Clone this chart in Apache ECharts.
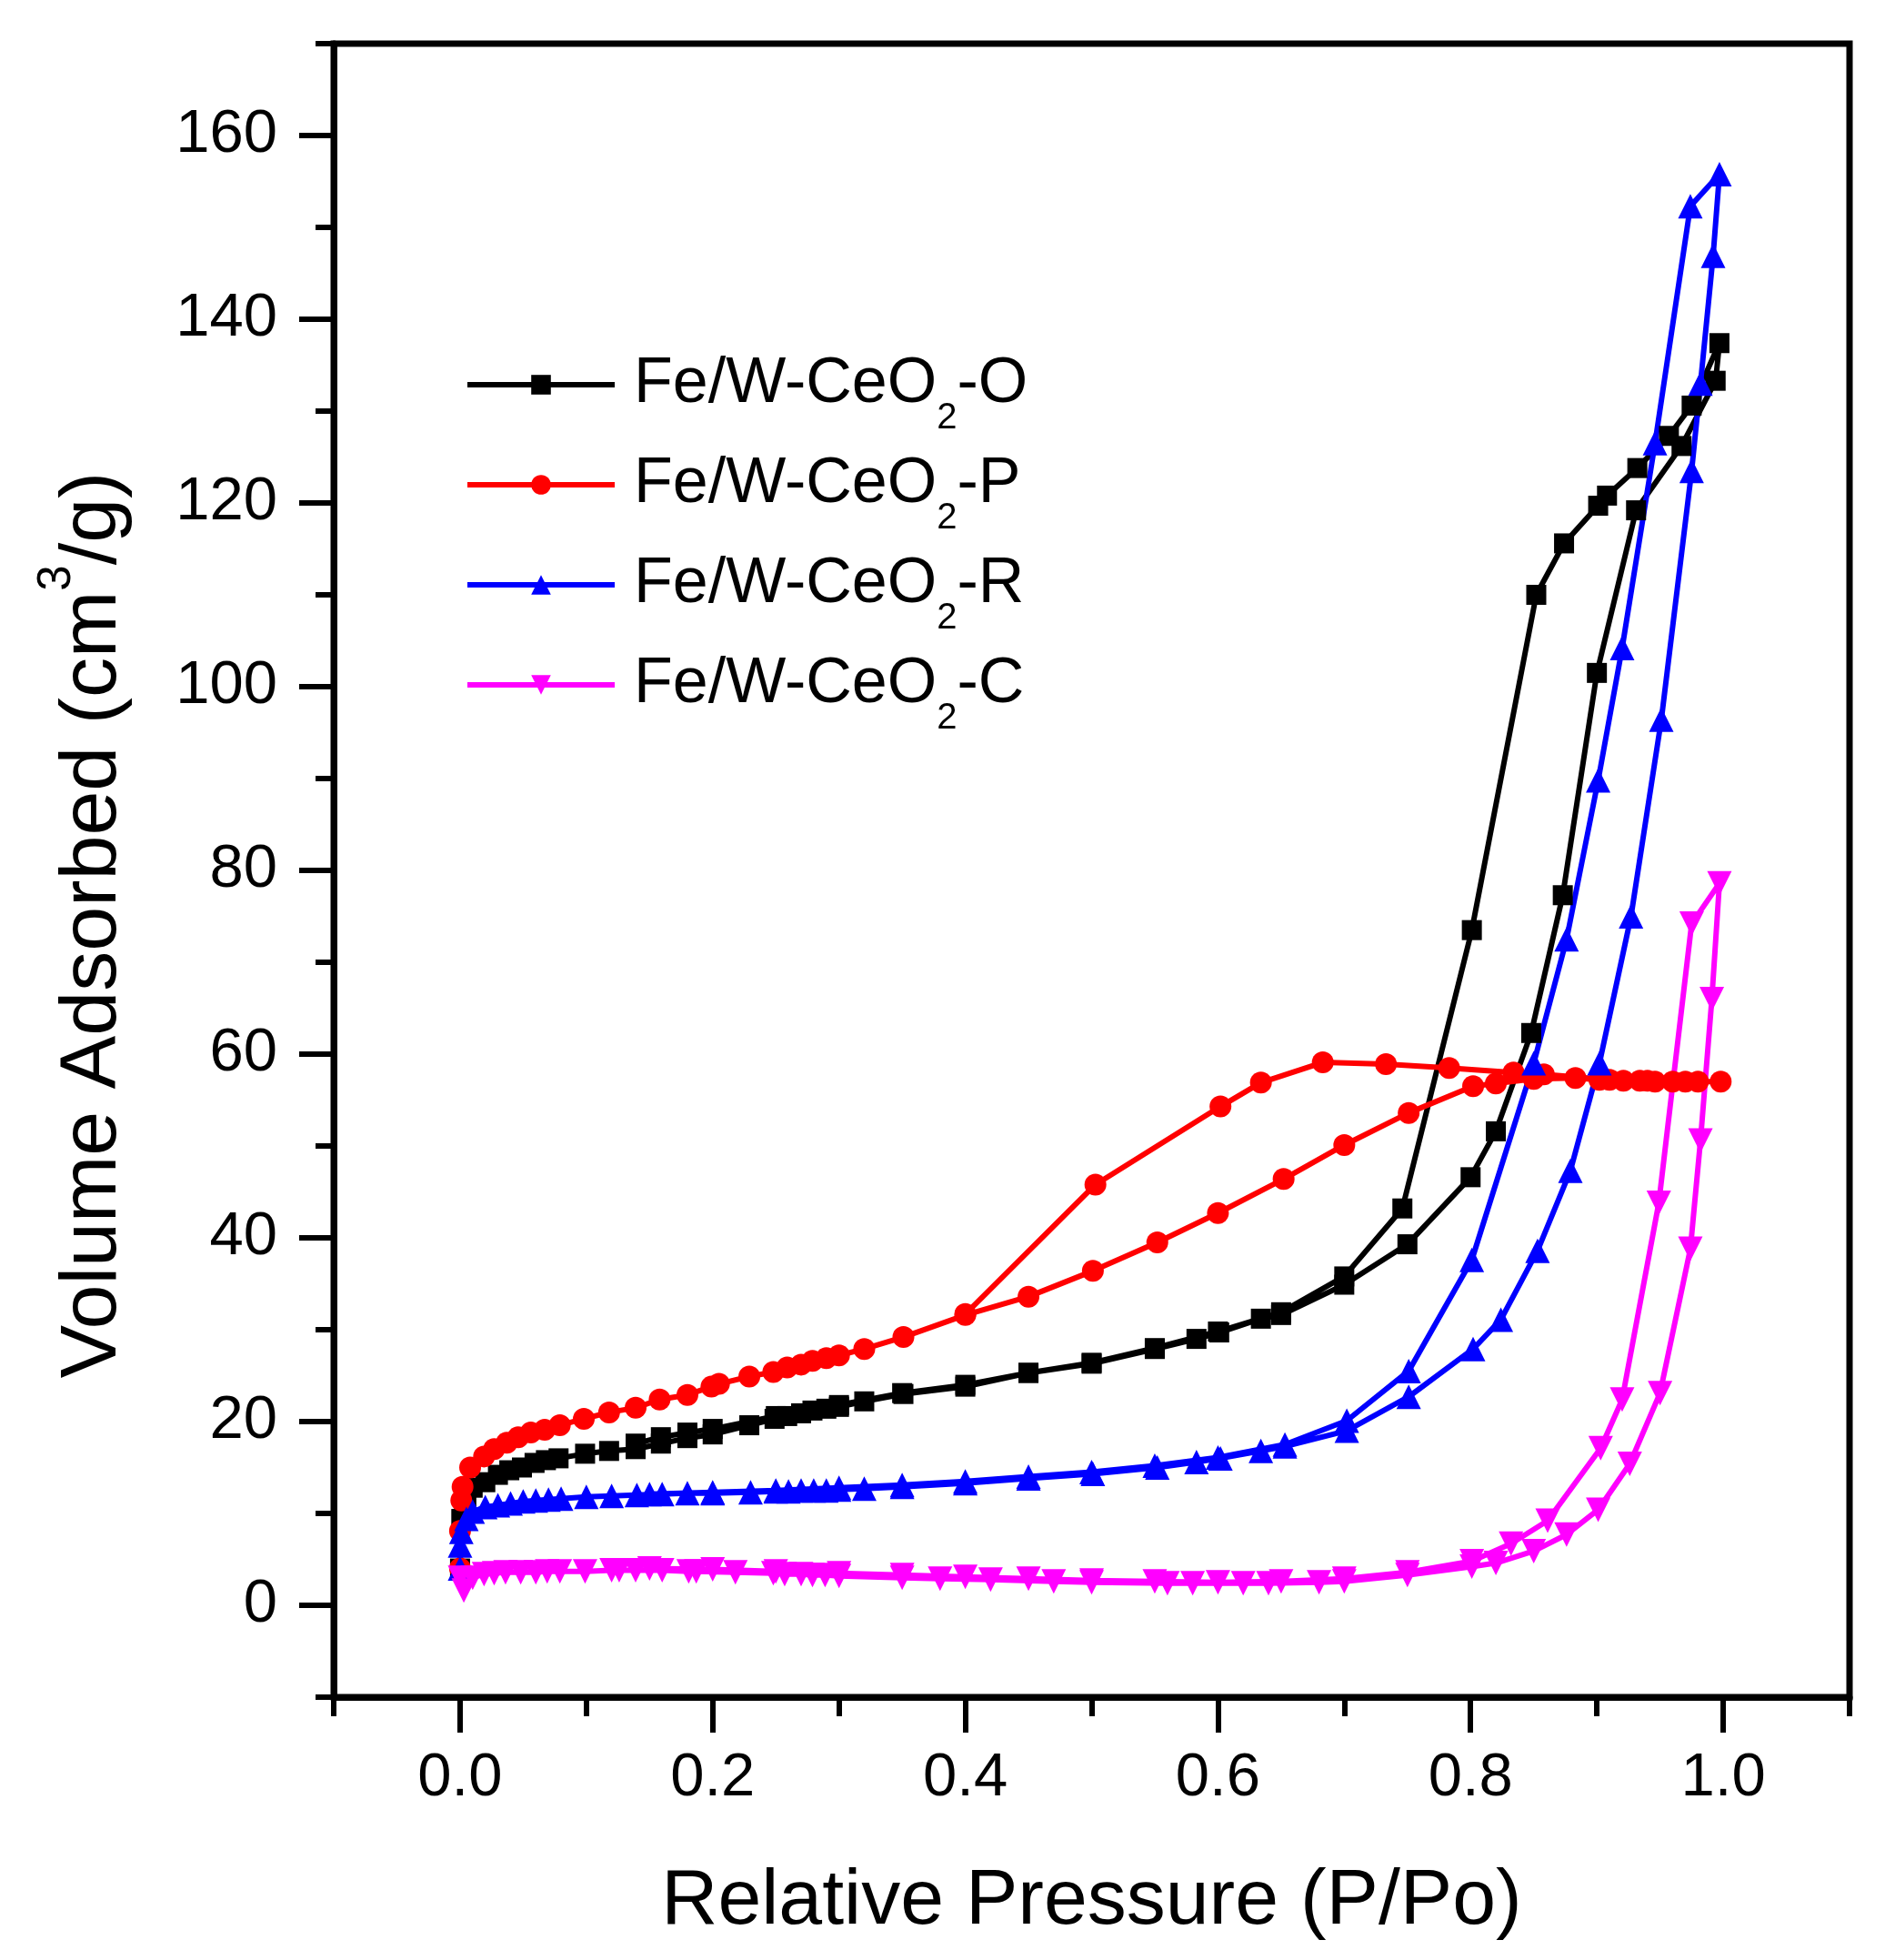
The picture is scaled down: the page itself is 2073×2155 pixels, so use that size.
<!DOCTYPE html>
<html>
<head>
<meta charset="utf-8">
<script src="https://cdn.jsdelivr.net/npm/echarts@6/dist/echarts.min.js"></script>
<style>
html,body{margin:0;padding:0;background:#fff;}
#chart{width:2073px;height:2155px;}
</style>
</head>
<body>
<div id="chart"></div>
<script>
// ---------- DATA ----------
const seriesNames = ['Fe/W-CeO2-O', 'Fe/W-CeO2-P', 'Fe/W-CeO2-R', 'Fe/W-CeO2-C'];
const seriesSuffix = ['O', 'P', 'R', 'C'];

// Fe/W-CeO2-O (black, squares)
const oAdsP = [0.000, 0.001, 0.005, 0.010, 0.020, 0.030, 0.039, 0.049, 0.059, 0.068, 0.078, 0.099, 0.118, 0.139, 0.159, 0.180, 0.200, 0.229, 0.249, 0.259, 0.270, 0.279, 0.290, 0.300, 0.320, 0.351, 0.400, 0.450, 0.500, 0.550, 0.583, 0.601, 0.634, 0.650, 0.700, 0.750, 0.800, 0.820, 0.848, 0.873, 0.900, 0.931, 0.967, 0.994, 0.997];
const oAdsV = [4.0, 9.4, 11.5, 12.8, 13.4, 14.2, 14.7, 15.0, 15.5, 15.8, 16.0, 16.5, 16.8, 17.0, 17.6, 18.2, 18.6, 19.6, 20.3, 20.6, 20.9, 21.2, 21.4, 21.6, 22.2, 23.0, 23.8, 25.3, 26.3, 27.9, 29.0, 29.7, 31.2, 31.6, 34.9, 39.3, 46.6, 51.6, 62.3, 77.3, 101.5, 119.2, 126.2, 133.3, 137.4];
const oDesP = [0.975, 0.957, 0.932, 0.908, 0.901, 0.874, 0.852, 0.801, 0.746, 0.700, 0.650, 0.600, 0.550, 0.500, 0.450, 0.400, 0.350, 0.300, 0.250, 0.200, 0.180, 0.159, 0.139];
const oDesV = [130.6, 127.3, 123.8, 120.8, 119.7, 115.6, 110.0, 73.5, 43.2, 35.8, 31.9, 29.8, 28.0, 26.4, 25.3, 24.0, 23.1, 21.8, 20.6, 19.2, 18.8, 18.3, 17.6];

// Fe/W-CeO2-P (red, circles)
const pAdsP = [0.000, 0.000, 0.001, 0.002, 0.008, 0.019, 0.027, 0.037, 0.046, 0.056, 0.067, 0.079, 0.098, 0.118, 0.139, 0.158, 0.180, 0.199, 0.205, 0.229, 0.248, 0.259, 0.270, 0.279, 0.290, 0.300, 0.320, 0.351, 0.400, 0.450, 0.501, 0.552, 0.600, 0.652, 0.700, 0.751, 0.802, 0.820, 0.850, 0.883, 0.902, 0.921, 0.934, 0.946, 0.970, 0.998];
const pAdsV = [4.0, 8.1, 11.4, 12.9, 15.0, 16.2, 17.0, 17.7, 18.3, 18.8, 19.1, 19.6, 20.3, 21.0, 21.5, 22.4, 22.9, 23.8, 24.1, 24.9, 25.4, 25.9, 26.2, 26.6, 26.9, 27.2, 27.9, 29.2, 31.6, 33.6, 36.4, 39.5, 42.7, 46.4, 50.1, 53.6, 56.5, 56.8, 57.3, 57.4, 57.2, 57.1, 57.1, 57.0, 57.0, 57.0];
const pDesP = [0.980, 0.960, 0.940, 0.910, 0.858, 0.834, 0.783, 0.733, 0.683, 0.634, 0.602, 0.503, 0.400];
const pDesV = [57.0, 57.0, 57.1, 57.2, 57.8, 58.0, 58.5, 58.9, 59.1, 56.9, 54.3, 45.8, 31.7];

// Fe/W-CeO2-R (blue, up triangles)
const rAdsP = [0.000, 0.000, 0.001, 0.005, 0.010, 0.020, 0.030, 0.040, 0.050, 0.060, 0.070, 0.080, 0.100, 0.120, 0.140, 0.160, 0.180, 0.200, 0.230, 0.250, 0.260, 0.270, 0.280, 0.290, 0.300, 0.320, 0.350, 0.400, 0.450, 0.501, 0.552, 0.583, 0.602, 0.634, 0.653, 0.702, 0.751, 0.802, 0.824, 0.853, 0.879, 0.902, 0.927, 0.951, 0.975, 0.982, 0.992, 0.997];
const rAdsV = [4.0, 6.5, 8.0, 9.4, 10.2, 10.7, 10.9, 11.1, 11.3, 11.4, 11.5, 11.6, 11.8, 11.9, 12.0, 12.1, 12.2, 12.2, 12.3, 12.4, 12.4, 12.5, 12.5, 12.5, 12.6, 12.7, 12.9, 13.3, 13.8, 14.3, 15.0, 15.6, 16.0, 16.8, 17.3, 19.0, 22.7, 27.9, 31.1, 38.6, 47.3, 59.0, 75.0, 96.4, 123.5, 133.0, 146.9, 155.8];
const rDesP = [0.974, 0.946, 0.920, 0.901, 0.876, 0.850, 0.801, 0.751, 0.702, 0.653, 0.600, 0.550, 0.500, 0.450, 0.400, 0.350, 0.300, 0.250, 0.200, 0.150];
const rDesV = [152.3, 126.5, 104.2, 89.8, 72.5, 59.0, 37.6, 25.5, 20.1, 17.5, 16.1, 15.2, 14.5, 14.0, 13.5, 13.1, 12.8, 12.5, 12.3, 12.1];

// Fe/W-CeO2-C (magenta, down triangles)
const cAdsP = [0.000, 0.003, 0.010, 0.019, 0.027, 0.036, 0.048, 0.060, 0.069, 0.079, 0.099, 0.120, 0.126, 0.139, 0.160, 0.181, 0.187, 0.218, 0.248, 0.257, 0.270, 0.279, 0.289, 0.300, 0.350, 0.380, 0.420, 0.470, 0.500, 0.560, 0.580, 0.620, 0.640, 0.680, 0.700, 0.750, 0.801, 0.820, 0.850, 0.876, 0.901, 0.926, 0.950, 0.974, 0.982, 0.991, 0.997];
const cAdsV = [3.0, 1.6, 3.0, 3.4, 3.5, 3.6, 3.6, 3.6, 3.7, 3.7, 3.7, 3.8, 3.8, 3.8, 3.8, 3.7, 3.7, 3.6, 3.5, 3.4, 3.4, 3.3, 3.3, 3.2, 3.0, 2.9, 2.8, 2.6, 2.5, 2.4, 2.4, 2.4, 2.4, 2.5, 2.6, 3.3, 4.2, 4.6, 5.9, 7.7, 10.4, 15.4, 23.1, 38.8, 50.6, 66.0, 78.6];
const cDesP = [0.975, 0.949, 0.920, 0.903, 0.861, 0.832, 0.801, 0.750, 0.700, 0.650, 0.600, 0.550, 0.500, 0.450, 0.400, 0.350, 0.300, 0.250, 0.200, 0.150];
const cDesV = [74.2, 43.8, 22.4, 17.1, 9.2, 6.7, 4.8, 3.6, 2.9, 2.6, 2.5, 2.6, 2.7, 2.9, 3.1, 3.3, 3.5, 3.7, 3.9, 4.0];

// Ticks
const xMajorTicks = [0.0, 0.2, 0.4, 0.6, 0.8, 1.0];
const xMinorTicks = [-0.1, 0.1, 0.3, 0.5, 0.7, 0.9, 1.1];
const yMajorTicks = [0, 20, 40, 60, 80, 100, 120, 140, 160];
const yMinorTicks = [-10, 10, 30, 50, 70, 90, 110, 130, 150, 170];

// ---------- BUILD ----------
function zip(ps, vs) { return ps.map((p, i) => [p, vs[i]]); }
const FONT = 'Arial, "Liberation Sans", Helvetica, sans-serif';

const seriesData = [
  zip(oAdsP, oAdsV).concat(zip(oDesP, oDesV)),
  zip(pAdsP, pAdsV).concat(zip(pDesP, pDesV)),
  zip(rAdsP, rAdsV).concat(zip(rDesP, rDesV)),
  zip(cAdsP, cAdsV).concat(zip(cDesP, cDesV))
];
const colors = ['#000000', '#FF0000', '#0000FF', '#FF00FF'];
const symbols = ['rect', 'circle', 'triangle', 'triangle'];
const symbolSizes = [22, 24, 27, 27];
const rotates = [0, 0, 0, 180];

const chart = echarts.init(document.getElementById('chart'), null, {renderer: 'canvas'});

const series = seriesNames.map((name, i) => ({
  name: name,
  type: 'line',
  xAxisIndex: 0,
  yAxisIndex: 0,
  data: seriesData[i],
  symbol: symbols[i],
  symbolSize: symbolSizes[i],
  symbolRotate: rotates[i],
  showAllSymbol: true,
  color: colors[i],
  lineStyle: {color: colors[i], width: 6},
  itemStyle: {color: colors[i]},
  animation: false
}));

const option = {
  backgroundColor: '#ffffff',
  animation: false,
  grid: {
    left: 367, right: 39, top: 48, bottom: 289,
    show: true, borderColor: '#000', borderWidth: 7, backgroundColor: 'transparent'
  },
  legend: {
    orient: 'vertical',
    left: 506,
    top: 361,
    itemWidth: 162,
    itemHeight: 27,
    itemGap: -4,
    data: seriesNames,
    lineStyle: {width: 6},
    formatter: function (name) {
      const i = seriesNames.indexOf(name);
      return '{f|Fe/W-CeO}{s|2}{a|-' + seriesSuffix[i] + '}';
    },
    textStyle: {
      color: '#000',
      rich: {
        f: {fontSize: 70, lineHeight: 80, fontFamily: FONT, color: '#000', padding: [0, 0, 0, 16]},
        a: {fontSize: 70, lineHeight: 80, fontFamily: FONT, color: '#000'},
        s: {fontSize: 40, lineHeight: 40, fontFamily: FONT, color: '#000', padding: [74, 0, 0, 0]}
      }
    }
  },
  xAxis: [
    {
      type: 'value', min: -0.1, max: 1.1, position: 'bottom',
      name: 'Relative Pressure (P/Po)',
      nameLocation: 'middle', nameGap: 182,
      nameTextStyle: {fontSize: 86, fontFamily: FONT, color: '#000'},
      axisLine: {show: true, onZero: false, lineStyle: {color: '#000', width: 7}},
      axisTick: {show: true, inside: false, length: 39, customValues: xMajorTicks, lineStyle: {color: '#000', width: 6}},
      axisLabel: {show: true, customValues: xMajorTicks, margin: 56, fontSize: 67, fontFamily: FONT, color: '#000',
        formatter: v => Number(v).toFixed(1)},
      splitLine: {show: false}
    },
    {
      type: 'value', min: -0.1, max: 1.1, position: 'bottom', gridIndex: 0,
      axisLine: {show: false, onZero: false},
      axisTick: {show: true, inside: false, length: 21, customValues: xMinorTicks, lineStyle: {color: '#000', width: 6}},
      axisLabel: {show: false},
      splitLine: {show: false}
    }
  ],
  yAxis: [
    {
      type: 'value', min: -10, max: 170, position: 'left',
      name: '{a|Volume Adsorbed (cm}{b|3}{a|/g)}',
      nameLocation: 'middle', nameGap: 214, nameRotate: 90,
      nameTextStyle: {
        color: '#000', fontFamily: FONT, fontSize: 88,
        padding: [0, 120, 0, 0],
        rich: {
          a: {fontSize: 88, lineHeight: 100, fontFamily: FONT, color: '#000'},
          b: {fontSize: 51, lineHeight: 50, fontFamily: FONT, color: '#000', padding: [0, 0, 80, 0]}
        }
      },
      axisLine: {show: true, onZero: false, lineStyle: {color: '#000', width: 7}},
      axisTick: {show: true, inside: false, length: 38, customValues: yMajorTicks, lineStyle: {color: '#000', width: 6}},
      axisLabel: {show: true, customValues: yMajorTicks, margin: 62, fontSize: 67, fontFamily: FONT, color: '#000'},
      splitLine: {show: false}
    },
    {
      type: 'value', min: -10, max: 170, position: 'left', gridIndex: 0,
      axisLine: {show: false, onZero: false},
      axisTick: {show: true, inside: false, length: 20, customValues: yMinorTicks, lineStyle: {color: '#000', width: 6}},
      axisLabel: {show: false},
      splitLine: {show: false}
    }
  ],
  series: series
};
chart.setOption(option);
</script>
</body>
</html>
